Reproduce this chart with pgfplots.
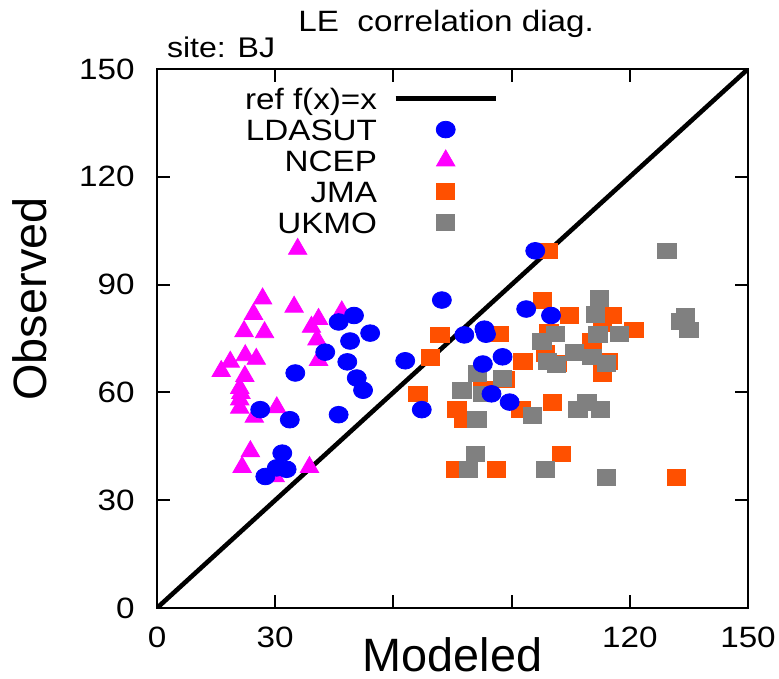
\documentclass[border=0pt]{standalone}
\usepackage{fontspec}
\setmainfont{Liberation Sans}[FakeStretch=1.13]
\newfontfamily\labfont{Liberation Sans}
\usepackage{pgfplots}
\pgfplotsset{compat=1.18}
\definecolor{ldas}{RGB}{0,0,255}
\definecolor{ncep}{RGB}{255,0,255}
\definecolor{jma}{RGB}{255,80,0}
\definecolor{ukmo}{RGB}{128,128,128}

% legend sample: 50pt wide, mark in the middle
\pgfplotsset{myleg/.style={legend image code/.code={%
  \draw[mark repeat=2,mark phase=2,##1] plot coordinates {(0pt,0pt) (25pt,0pt) (50pt,0pt)};}}}
\pgfplotsset{
  ldasmark/.style={only marks, mark=*, mark size=4.17pt, color=ldas, mark options={xscale=1.14}, myleg},
  ncepmark/.style={only marks, mark=triangle*, mark size=5.3pt, color=ncep, myleg},
  jmamark/.style={only marks, mark=square*, mark size=3.95pt, color=jma, mark options={xscale=1.16}, myleg},
  ukmomark/.style={only marks, mark=square*, mark size=3.95pt, color=ukmo, mark options={xscale=1.16}, myleg},
}

\begin{document}
\begin{tikzpicture}
\useasboundingbox (-78.5pt,-35pt) rectangle (311pt,304pt);
\begin{axis}[
  at={(0pt,0pt)}, anchor=south west,
  scale only axis, width=295.5pt, height=269.5pt,
  xmin=0, xmax=150, ymin=0, ymax=150,
  xtick={0,30,...,150}, ytick={0,30,...,150},
  xticklabels={0,30,,,120,150},
  tick align=inside, major tick length=6.5pt,
  axis line style={line width=1pt},
  every tick/.style={black, line width=1pt},
  font=\fontsize{14.7pt}{17pt}\selectfont,
  /pgf/number format/assume math mode=true,
  xticklabel style={anchor=base, yshift=-19.5pt, inner sep=0pt},
  yticklabel style={anchor=east, xshift=-11pt, inner sep=0pt},
  xlabel={Modeled}, ylabel={Observed},
  xlabel style={at={([yshift=-31.5pt]axis description cs:0.5,0)}, anchor=base,
    font=\fontsize{23.4pt}{28pt}\labfont},
  ylabel style={at={([xshift=-55pt]axis description cs:0,0.5733)}, anchor=base,
    font=\fontsize{23.4pt}{28pt}\labfont},
  legend style={draw=none, fill=none, at={(0.5777,0.9746)}, anchor=north east,
    inner sep=0pt, column sep=8.2pt, row sep=0pt,
    nodes={inner sep=0pt, text height=13pt, text depth=2.5pt},
    font=\fontsize{14.7pt}{17pt}\selectfont},
  legend cell align=right, legend plot pos=right,
]
% ref line
\addplot[black, line width=2.3pt, forget plot] coordinates {(0,0) (150,150)};

% NCEP
\addplot[ncepmark, forget plot] coordinates {
(35.7,99.9) (26.8,86.1) (34.8,83.8) (24.5,81.8) (46.9,82.5) (41.0,80.4)
(39.2,78.2) (22.1,77.0) (27.3,76.7) (40.6,74.7) (22.4,70.3) (25.2,69.3)
(18.6,68.5) (41.0,69.0) (16.3,65.9) (22.3,64.5) (21.0,61.2) (21.3,59.8)
(21.0,58.0) (21.0,55.7) (30.4,55.8) (24.7,53.2) (23.7,43.6) (21.6,39.2)
(38.7,39.2) (30.0,36.6)
};

% JMA
\addplot[jmamark, forget plot] coordinates {
(99.2,99.4) (97.8,85.6) (104.6,81.4) (71.8,76.0) (86.9,76.3) (69.4,69.8)
(92.9,68.6) (98.6,70.9) (66.2,59.6) (76.1,55.2) (77.8,52.4) (92.4,55.2)
(100.3,57.2) (82.7,61.0) (102.6,42.9) (75.7,38.5) (86.2,38.5) (88.3,63.7)
(99.5,76.8) (101.5,68.1) (115.5,81.4) (121.0,77.4) (110.4,74.2) (113.0,79.3)
(113.0,65.3) (114.6,68.6) (131.8,36.4)
};

% UKMO
\addplot[ukmomark, forget plot] coordinates {
(129.4,99.4) (112.3,86.2) (111.2,81.6) (134.1,81.3) (132.8,79.7) (135.0,77.4)
(101.1,76.3) (97.7,74.2) (111.9,76.1) (117.3,76.3) (105.9,71.1) (110.4,69.9)
(114.0,68.1) (99.0,68.6) (101.3,67.7) (81.4,65.2) (87.7,63.8) (77.4,60.6)
(82.7,59.6) (95.2,53.5) (81.2,52.4) (106.8,55.2) (109.1,57.2) (112.5,55.2)
(80.8,42.9) (79.1,38.5) (98.6,38.5) (114.1,36.4)
};

% LDASUT
\addplot[ldasmark, forget plot] coordinates {
(50.0,81.4) (46.1,79.6) (54.1,76.5) (49.0,74.3) (42.7,71.2) (48.3,68.5)
(35.1,65.4) (50.7,64.0) (52.3,60.6) (26.2,55.2) (33.7,52.4) (46.1,53.8)
(31.8,43.1) (30.4,39.0) (32.9,38.6) (27.5,36.6) (96.0,99.4) (72.3,85.7)
(93.7,83.2) (100.0,81.4) (78.0,76.0) (83.1,77.6) (83.5,76.2) (63.0,68.8)
(87.7,69.9) (82.7,67.9) (84.9,59.6) (89.5,57.3) (67.2,55.2)
};

\addlegendimage{black, line width=2.3pt, myleg}
\addlegendentry{ref f(x)=x}
\addlegendimage{ldasmark}
\addlegendentry{LDASUT}
\addlegendimage{ncepmark}
\addlegendentry{NCEP}
\addlegendimage{jmamark}
\addlegendentry{JMA}
\addlegendimage{ukmomark}
\addlegendentry{UKMO}
\end{axis}
\node[anchor=base west, inner sep=0pt, font=\fontsize{14.7pt}{17pt}\selectfont] at (70.5pt,288pt) {LE\ \ correlation diag.};
\node[anchor=base west, inner sep=0pt, font=\fontsize{14.2pt}{17pt}\selectfont] at (4.8pt,275.2pt) {site: BJ};
\end{tikzpicture}
\end{document}
